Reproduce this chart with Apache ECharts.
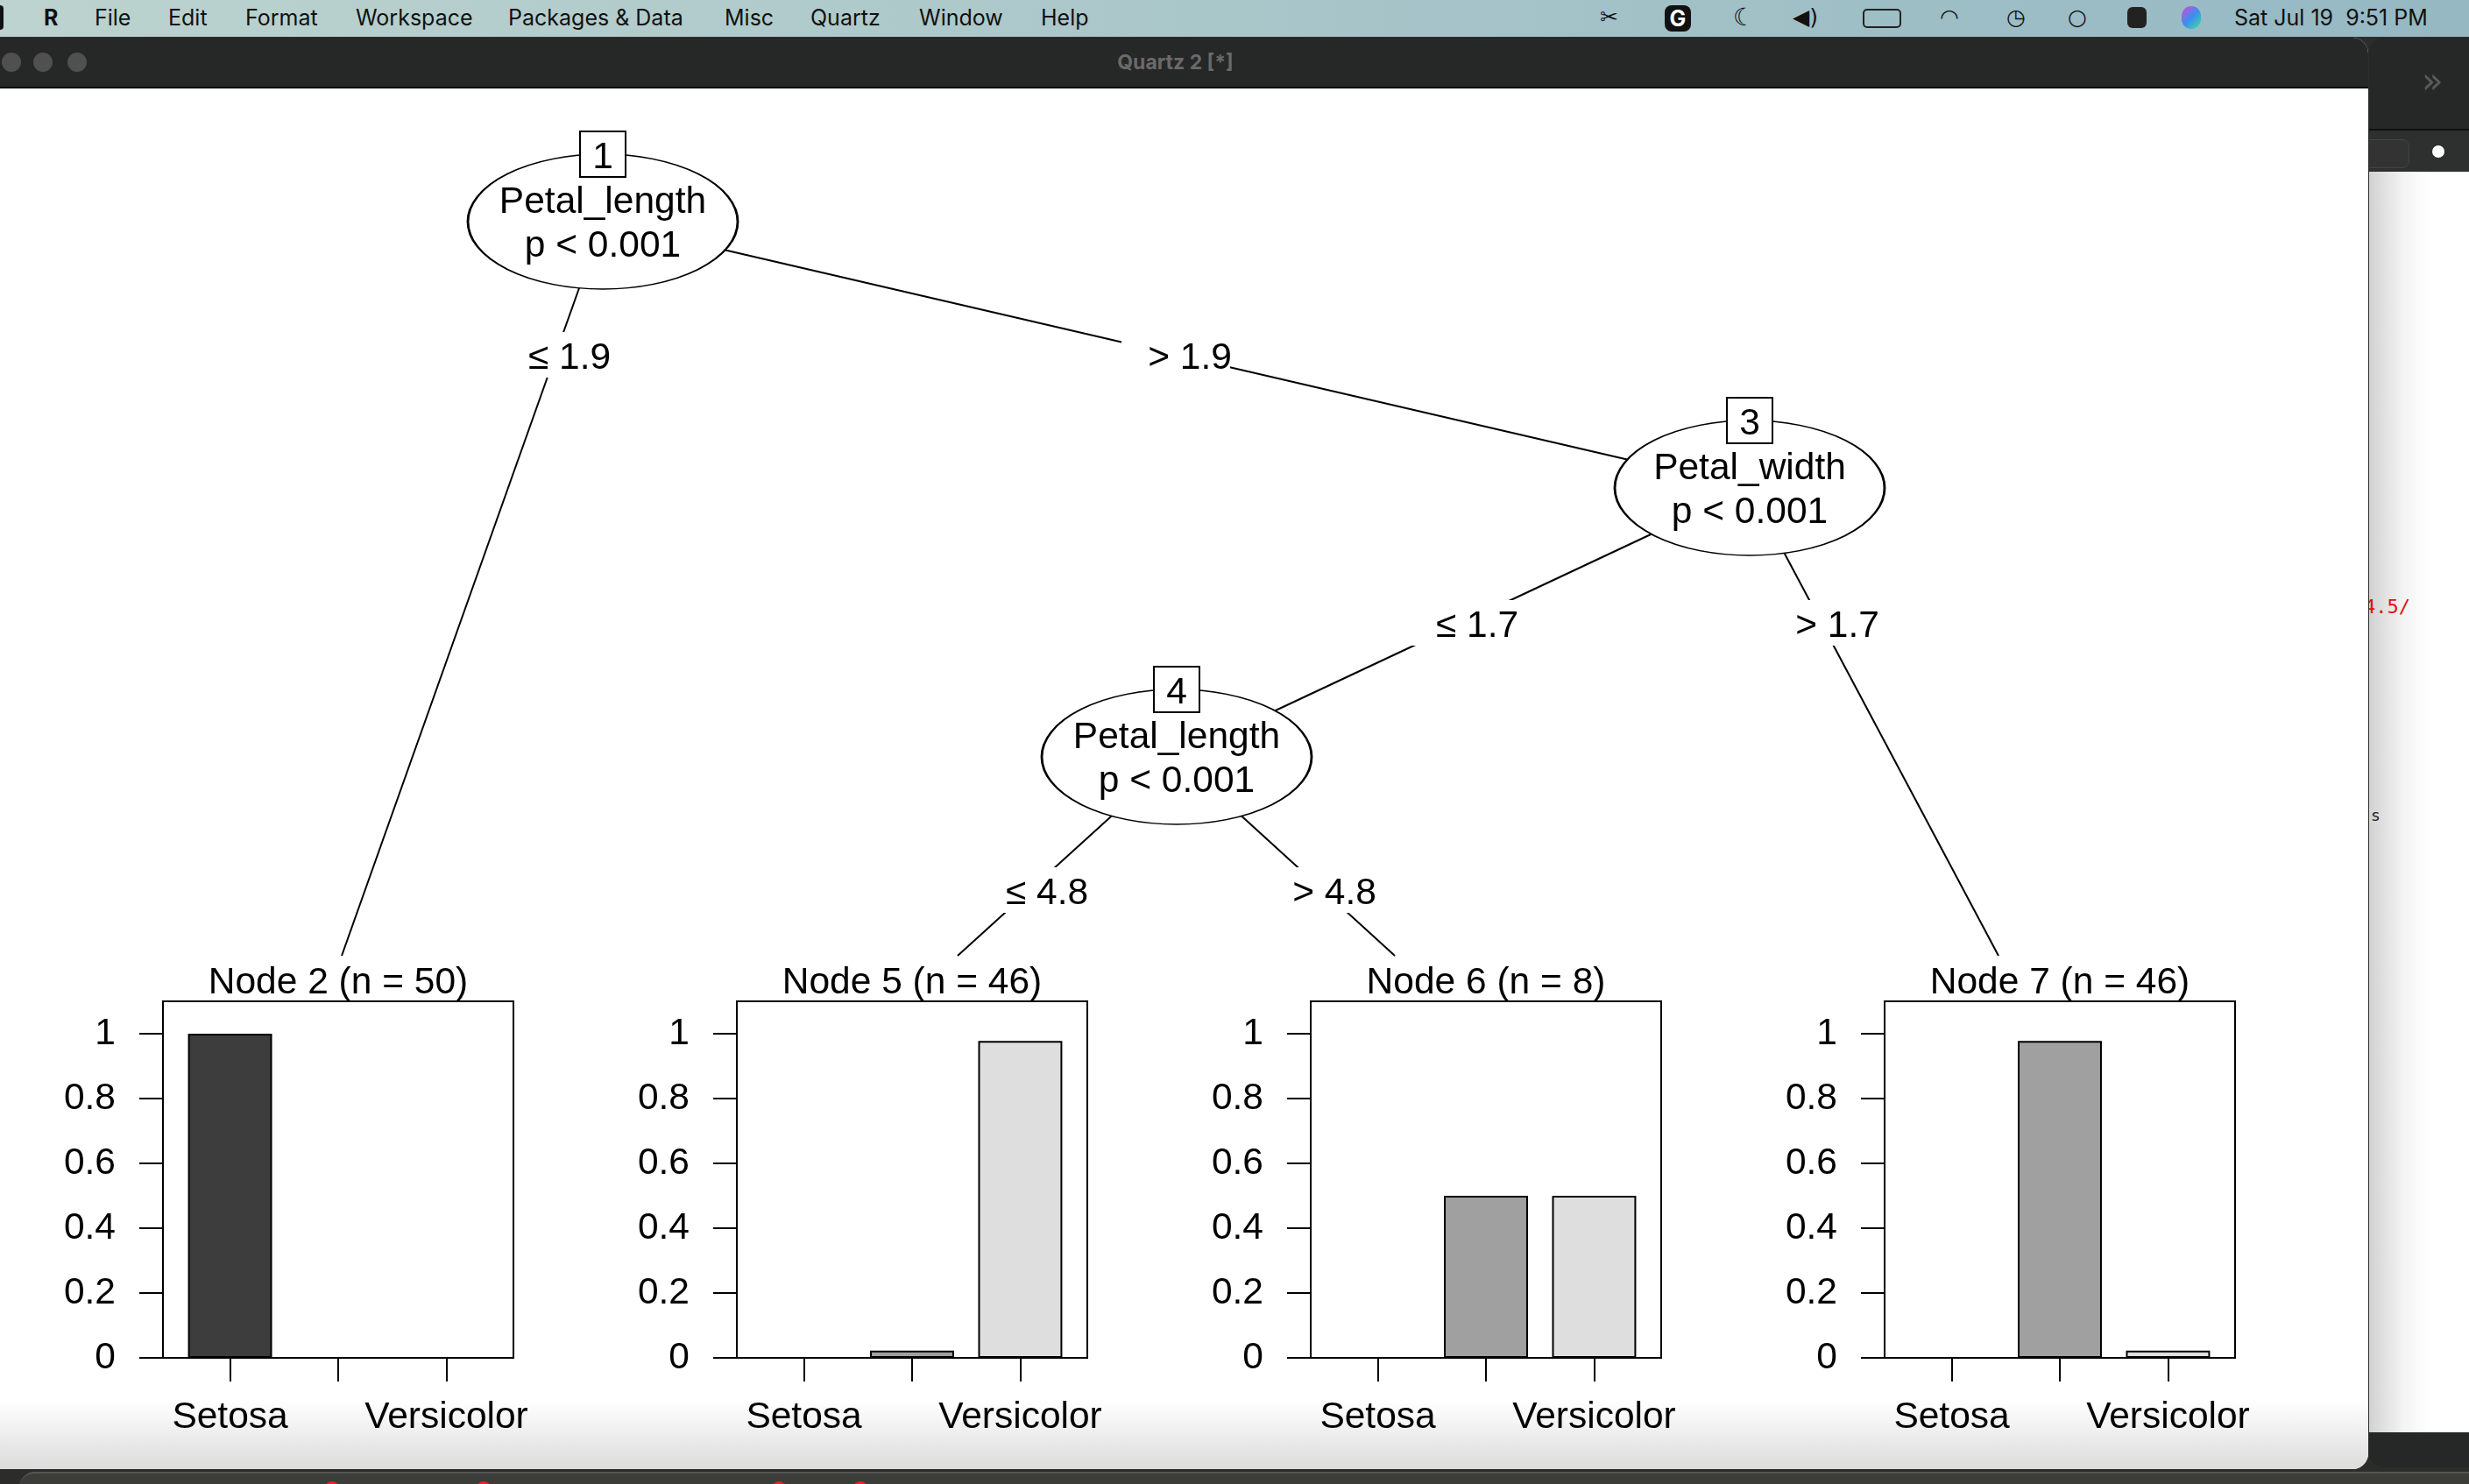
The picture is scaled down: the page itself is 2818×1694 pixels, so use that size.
<!DOCTYPE html>
<html>
<head>
<meta charset="utf-8">
<title>ctree iris</title>
<script src="https://cdn.jsdelivr.net/npm/echarts@6/dist/echarts.min.js"></script>
<style>
  html, body { margin: 0; padding: 0; width: 2818px; height: 1694px; overflow: hidden; background: #2c2d2b; }
  .abs { position: absolute; }
  #menubar { left: 0; top: 0; width: 2818px; height: 42px; background: linear-gradient(90deg, #bcd3cf 0%, #a9c6c9 50%, #95b8c3 100%); font-family: Inter, "Liberation Sans", sans-serif; font-size: 25px; color: #111; }
  #menubar span { position: absolute; top: 0; line-height: 40px; white-space: nowrap; }
  #qwin { left: -20px; top: 43px; width: 2723px; height: 1634px; border-radius: 0 18px 18px 0; overflow: hidden; background: #fff; }
  #qtitle { left: 0; top: 0; width: 100%; height: 56px; background: #262727; border-bottom: 2px solid #0e0e0e; }
  #qtitle .dot { position: absolute; top: 17px; width: 22px; height: 22px; border-radius: 11px; background: #505050; }
  #qtitle .cap { position: absolute; left: 0; width: 100%; top: 0; line-height: 56px; text-align: center; font-family: Inter, "Liberation Sans", sans-serif; font-weight: bold; font-size: 23px; color: #6a6a6a; }
  #qbody { left: 0; top: 58px; width: 100%; bottom: 0; background: linear-gradient(to bottom, #fff 0%, #fff 95%, #dcdcdc 100%); }
  #rwin { left: 2704px; top: 43px; width: 140px; height: 1632px; border-radius: 16px; overflow: hidden; background: #262727; }
  #rtool { left: 0; top: 104px; width: 100%; height: 47px; background: #2e2f2f; border-top: 2px solid #0e0e0e; }
  #rbody { left: 0; top: 153px; width: 100%; height: 1439px; background: linear-gradient(90deg, #d2d2d2 0px, #f4f4f4 40px, #fff 70px); font-family: "DejaVu Sans Mono", monospace; font-size: 22px; }
  #dock { left: 22px; top: 1680px; width: 2900px; height: 40px; border-radius: 18px 0 0 0; background: #3c3d39; border-top: 2px solid #555; }
  .red { position: absolute; width: 18px; height: 18px; border-radius: 9px; background: #e8242b; top: 9px; }
  #chart { position: absolute; left: 0; top: 0; width: 2818px; height: 1694px; }
</style>
</head>
<body>
<!-- 桌面外框 -->
<div id="menubar" class="abs">
  <span style="left:-4px;top:6px;width:8px;height:28px;background:#111;border-radius:4px;line-height:0"></span>
  <span style="left:50px;font-weight:bold">R</span>
  <span style="left:108px">File</span>
  <span style="left:192px">Edit</span>
  <span style="left:280px">Format</span>
  <span style="left:406px">Workspace</span>
  <span style="left:580px">Packages &amp; Data</span>
  <span style="left:827px">Misc</span>
  <span style="left:925px">Quartz</span>
  <span style="left:1049px">Window</span>
  <span style="left:1188px">Help</span>
  <span style="left:1826px;font-family:'DejaVu Sans'">✂</span>
  <span style="left:1900px;top:6px;width:30px;height:30px;background:#111;border-radius:8px;color:#fff;text-align:center;line-height:30px;font-weight:bold">G</span>
  <span style="left:1978px;font-family:'DejaVu Sans';font-size:28px">☾</span>
  <span style="left:2046px;font-family:'DejaVu Sans'">◀)</span>
  <span style="left:2126px;top:10px;width:40px;height:18px;border:2px solid #222;border-radius:5px;line-height:18px"></span>
  <span style="left:2214px;font-family:'DejaVu Sans'">◠</span>
  <span style="left:2290px;font-family:'DejaVu Sans'">◷</span>
  <span style="left:2360px;font-family:'DejaVu Sans'">○</span>
  <span style="left:2428px;top:8px;width:22px;height:24px;background:#222;border-radius:6px;line-height:0"></span>
  <span style="left:2490px;top:7px;width:22px;height:26px;border-radius:13px;background:linear-gradient(135deg,#e04ad0,#3a8df0,#40e0a0);line-height:0"></span>
  <span style="left:2550px">Sat Jul 19&nbsp;&nbsp;9:51 PM</span>
</div>

<div id="rwin" class="abs">
  <div class="abs" style="left:60px;top:26px;font-family:'DejaVu Sans';font-size:40px;color:#5b5b5b">»</div>
  <div id="rtool" class="abs">
    <div class="abs" style="left:-20px;top:10px;width:64px;height:31px;border-radius:8px;background:#333;border:1px solid #444"></div>
    <div class="abs" style="left:72px;top:17px;width:14px;height:14px;border-radius:7px;background:#fff"></div>
  </div>
  <div id="rbody" class="abs">
    <div class="abs" style="left:-6px;top:484px;color:#e01010">4.5/</div>
    <div class="abs" style="left:2px;top:724px;color:#222;font-size:18px">s</div>
  </div>
</div>

<div id="qwin" class="abs">
  <div id="qtitle" class="abs">
    <div class="dot" style="left:22px"></div>
    <div class="dot" style="left:58px"></div>
    <div class="dot" style="left:97px"></div>
    <div class="cap">Quartz 2 [*]</div>
  </div>
  <div id="qbody" class="abs"></div>
</div>

<div id="dock" class="abs">
  <div class="red" style="left:348px"></div>
  <div class="red" style="left:521px"></div>
  <div class="red" style="left:858px"></div>
  <div class="red" style="left:951px"></div>
</div>

<div id="chart"></div>

<script>
// 类别与配色（第二类的刻度标签在原图中因重叠被省略）
const classNames = ['Setosa', 'Virginica', 'Versicolor'];
const classColors = ['#3d3d3d', '#a0a0a0', '#dedede'];
const yTicks = [0, 0.2, 0.4, 0.6, 0.8, 1];
const xTickPos = [1, 2, 3];
const xLabelPos = [1, 3];

// 终端节点
const terminalIds = [2, 5, 6, 7];
const terminalN = [50, 46, 8, 46];
const node2Probs = [1, 0, 0];
const node5Probs = [0, 0.022, 0.978];
const node6Probs = [0, 0.5, 0.5];
const node7Probs = [0, 0.978, 0.022];
const terminalProbs = [node2Probs, node5Probs, node6Probs, node7Probs];

// 内部节点与分支
const innerIds = [1, 3, 4];
const innerVars = ['Petal_length', 'Petal_width', 'Petal_length'];
const innerPvals = ['p < 0.001', 'p < 0.001', 'p < 0.001'];
const edgeFrom = [1, 1, 3, 3, 4, 4];
const edgeTo = [2, 3, 4, 7, 5, 6];
const edgeLabels = ['≤ 1.9', '> 1.9', '≤ 1.7', '> 1.7', '≤ 4.8', '> 4.8'];

// 布局（像素）
const W = 2818, H = 1694;
const nodePos = {
    1: [688, 253], 3: [1997, 557], 4: [1343, 864],
    2: [390, 1091], 5: [1093, 1091], 6: [1592, 1091], 7: [2281, 1091]
};
const edgeTextPos = [[650, 405], [1358, 405], [1686, 711], [2097, 711], [1195, 1016], [1523, 1016]];
const edgeBoxShift = 16;
const edgeBoxSize = [124, 52];
const panelLeft = [186, 841, 1496, 2151];
const panelTop = 1143, panelW = 400, panelH = 407;
const xMin = 0.38, xMax = 3.62, barFrac = 0.777;
const ellipseSize = [308, 154];
const FONT = '"Liberation Sans", Arial, Helvetica, sans-serif';
const FS = 42.5;
const TEXT_DY = 4.5;

const chart = echarts.init(document.getElementById('chart'), null, { renderer: 'canvas' });

const grids = [], xAxes = [], yAxes = [], series = [], graphics = [];

terminalIds.forEach(function (id, i) {
    grids.push({
        left: panelLeft[i], top: panelTop, width: panelW, height: panelH,
        show: true, borderColor: '#000', borderWidth: 2, backgroundColor: 'transparent'
    });
    xAxes.push({
        type: 'value', gridIndex: i, min: xMin, max: xMax,
        axisLine: { show: true, lineStyle: { color: '#000', width: 2 } },
        axisTick: { show: true, length: 27, customValues: xTickPos, lineStyle: { color: '#000', width: 2 } },
        axisLabel: {
            customValues: xLabelPos, margin: 47, color: '#000', fontSize: FS, fontFamily: FONT,
            formatter: function (v) { return classNames[Math.round(v) - 1]; }
        },
        splitLine: { show: false }
    });
    yAxes.push({
        type: 'value', gridIndex: i, min: 0, max: 1.1,
        axisLine: { show: true, lineStyle: { color: '#000', width: 2 } },
        axisTick: { show: true, length: 27, customValues: yTicks, lineStyle: { color: '#000', width: 2 } },
        axisLabel: {
            customValues: yTicks, margin: 54, color: '#000', fontSize: FS, fontFamily: FONT,
            padding: [TEXT_DY * 2, 0, 0, 0]
        },
        splitLine: { show: false }
    });
    series.push({
        type: 'bar', xAxisIndex: i, yAxisIndex: i,
        barWidth: panelW * barFrac / (xMax - xMin),
        silent: true,
        itemStyle: { borderColor: '#000', borderWidth: 2 },
        data: terminalProbs[i].map(function (v, k) {
            return { value: [xTickPos[k], v], itemStyle: { color: classColors[k] } };
        })
    });
    graphics.push({
        type: 'text', x: panelLeft[i] + panelW / 2, y: 1118 + TEXT_DY,
        style: {
            text: 'Node ' + id + ' (n = ' + terminalN[i] + ')',
            font: FS + 'px ' + FONT, fill: '#000', align: 'center', verticalAlign: 'middle'
        }
    });
});

// 树结构使用整页像素坐标系
const TI = terminalIds.length;
grids.push({ left: 0, top: 0, width: W, height: H, show: false });
xAxes.push({ type: 'value', gridIndex: TI, min: 0, max: W, show: false });
yAxes.push({ type: 'value', gridIndex: TI, min: 0, max: H, inverse: true, show: false });

series.push({
    type: 'lines', coordinateSystem: 'cartesian2d', xAxisIndex: TI, yAxisIndex: TI,
    silent: true, z: 1,
    lineStyle: { color: '#000', width: 2, opacity: 1, curveness: 0 },
    data: edgeFrom.map(function (f, i) {
        return { coords: [nodePos[f], nodePos[edgeTo[i]]] };
    })
});

// 分支标签：白色底框遮住连线
series.push({
    type: 'scatter', xAxisIndex: TI, yAxisIndex: TI, silent: true, z: 3,
    symbol: 'rect', symbolSize: edgeBoxSize,
    itemStyle: { color: '#fff', opacity: 1 },
    label: {
        show: true, position: 'inside', formatter: '{b}', color: '#000',
        fontSize: FS, fontFamily: FONT, offset: [edgeBoxShift, TEXT_DY]
    },
    data: edgeLabels.map(function (t, i) {
        return { name: t, value: [edgeTextPos[i][0] - edgeBoxShift, edgeTextPos[i][1]] };
    })
});

series.push({
    type: 'scatter', xAxisIndex: TI, yAxisIndex: TI, silent: true, z: 4,
    symbol: 'circle', symbolSize: ellipseSize,
    itemStyle: { color: '#fff', borderColor: '#000', borderWidth: 2, opacity: 1 },
    label: {
        show: true, position: 'inside', color: '#000', fontSize: FS, lineHeight: 50,
        fontFamily: FONT, offset: [0, 3],
        formatter: function (p) { return innerVars[p.dataIndex] + '\n' + innerPvals[p.dataIndex]; }
    },
    data: innerIds.map(function (id) { return { value: nodePos[id] }; })
});

// 节点编号方框
series.push({
    type: 'scatter', xAxisIndex: TI, yAxisIndex: TI, silent: true, z: 5,
    symbol: 'rect', symbolSize: [52, 52],
    itemStyle: { color: '#fff', borderColor: '#000', borderWidth: 2, opacity: 1 },
    label: {
        show: true, position: 'inside', color: '#000', fontSize: FS, fontFamily: FONT,
        offset: [0, TEXT_DY],
        formatter: function (p) { return String(innerIds[p.dataIndex]); }
    },
    data: innerIds.map(function (id) {
        return { value: [nodePos[id][0], nodePos[id][1] - ellipseSize[1] / 2] };
    })
});

chart.setOption({
    backgroundColor: 'transparent',
    animation: false,
    textStyle: { fontFamily: FONT },
    grid: grids,
    xAxis: xAxes,
    yAxis: yAxes,
    series: series,
    graphic: graphics
});
</script>
</body>
</html>
